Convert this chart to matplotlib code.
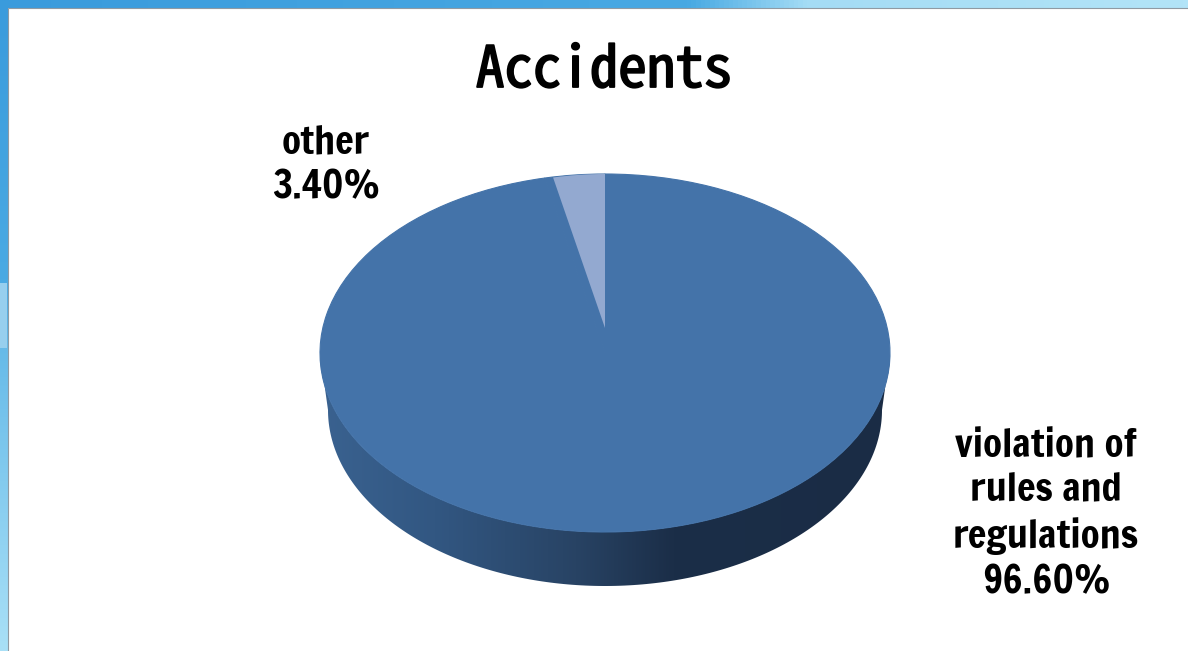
import matplotlib
matplotlib.use("Agg")
import matplotlib.pyplot as plt
import matplotlib.patheffects as pe
from matplotlib.colors import LinearSegmentedColormap
from matplotlib.patches import Polygon, Rectangle
import numpy as np

W, H = 1188, 651

# Chart data
title = "Accidents"
categories = ["violation of\nrules and\nregulations", "other"]
shares = [96.6, 3.4]


def px_axes(fig, left, top, right, bottom):
    # axes placed by pixel box of the reference image
    return fig.add_axes([left / W, 1 - bottom / H, (right - left) / W, (bottom - top) / H])


def flat_pie(ax, colors):
    ax.pie(shares, colors=colors, startangle=90, counterclock=False,
           wedgeprops={"linewidth": 0})
    # stretch the pie to fill the box, that gives the tilted look
    ax.set_aspect("auto")
    ax.set_xlim(-1, 1)
    ax.set_ylim(-1, 1)
    ax.patch.set_alpha(0)
    for w in ax.patches:
        w.set_clip_on(False)


fig = plt.figure(figsize=(W / 100, H / 100), dpi=100)
bg = fig.add_axes([0, 0, 1, 1])
bg.axis("off")

# Slide background: blue bands along top and left
top_cmap = LinearSegmentedColormap.from_list(
    "top", [(0, "#3a9bdc"), (0.58, "#48a9e3"), (0.68, "#a4dcf5"), (1, "#b2e4f8")])
left_cmap = LinearSegmentedColormap.from_list(
    "left", [(0, "#3a9bdc"), (0.43, "#4aaae3"), (0.53, "#66bae8"), (1, "#a9e0f7")])
bg.imshow(np.linspace(0, 1, 256).reshape(1, -1), cmap=top_cmap, extent=[0, W, 8, 0],
          aspect="auto", zorder=0)
bg.imshow(np.linspace(0, 1, 256).reshape(-1, 1), cmap=left_cmap, extent=[0, 8, H, 0],
          aspect="auto", zorder=0)
bg.add_patch(Rectangle((0, 283), 7, 65, color="#97cfee", lw=0, zorder=1))
bg.add_patch(Rectangle((7.5, 7.5), W, H, facecolor="white", edgecolor="#8f9aa3", lw=0.8, zorder=1))

# Side wall of the pie, dark gradient clipped to the outline
t = np.linspace(0, np.pi, 200)
upper = np.c_[605 + 285 * np.cos(t), 353 + 179 * np.sin(t)]
lower = np.c_[605 + 277 * np.cos(t), 410 + 176 * np.sin(t)]
side_cmap = LinearSegmentedColormap.from_list(
    "side", [(0, "#3a6290"), (0.2, "#325782"), (0.45, "#284364"),
             (0.62, "#1b2e48"), (1, "#1a2c45")])
grad = bg.imshow(np.linspace(0, 1, 256).reshape(1, -1), cmap=side_cmap,
                 extent=[320, 890, 590, 350], aspect="auto", zorder=2)
outline = Polygon(np.r_[lower, upper[::-1]], closed=True, transform=bg.transData,
                  facecolor="none", edgecolor="none")
bg.add_patch(outline)
grad.set_clip_path(outline)
bg.set_xlim(0, W)
bg.set_ylim(H, 0)

# Top surface of the pie
top_ax = px_axes(fig, 320, 174, 890, 532)
flat_pie(top_ax, ["#4473a9", "#4473a9"])
for w in top_ax.patches:
    w.set_edgecolor("#4473a9")
    w.set_linewidth(0.8)

# The small slice has its tip above the ellipse centre, so it gets its own box
slice_ax = px_axes(fig, 360, 174, 850, 482)
flat_pie(slice_ax, ["none", "#93a9d0"])

# Title and slice labels
fig.text(604 / W, 1 - 71 / H, title,
         family=["Noto Sans Mono CJK SC", "Noto Sans Mono", "DejaVu Sans Mono"],
         fontweight="medium", fontsize=41, ha="center", va="center", color="black",
         path_effects=[pe.withStroke(linewidth=1.3, foreground="black")])
label_font = {"family": ["Francois One", "Liberation Sans"], "fontsize": 28,
              "ha": "center", "va": "center", "color": "black", "linespacing": 1.31}
fig.text(1046 / W, 1 - 514 / H, f"{categories[0]}\n{shares[0]:.2f}%", **label_font)
fig.text(326 / W, 1 - 165 / H, f"{categories[1]}\n{shares[1]:.2f}%", **label_font)

fig.savefig("out.png", dpi=100)
